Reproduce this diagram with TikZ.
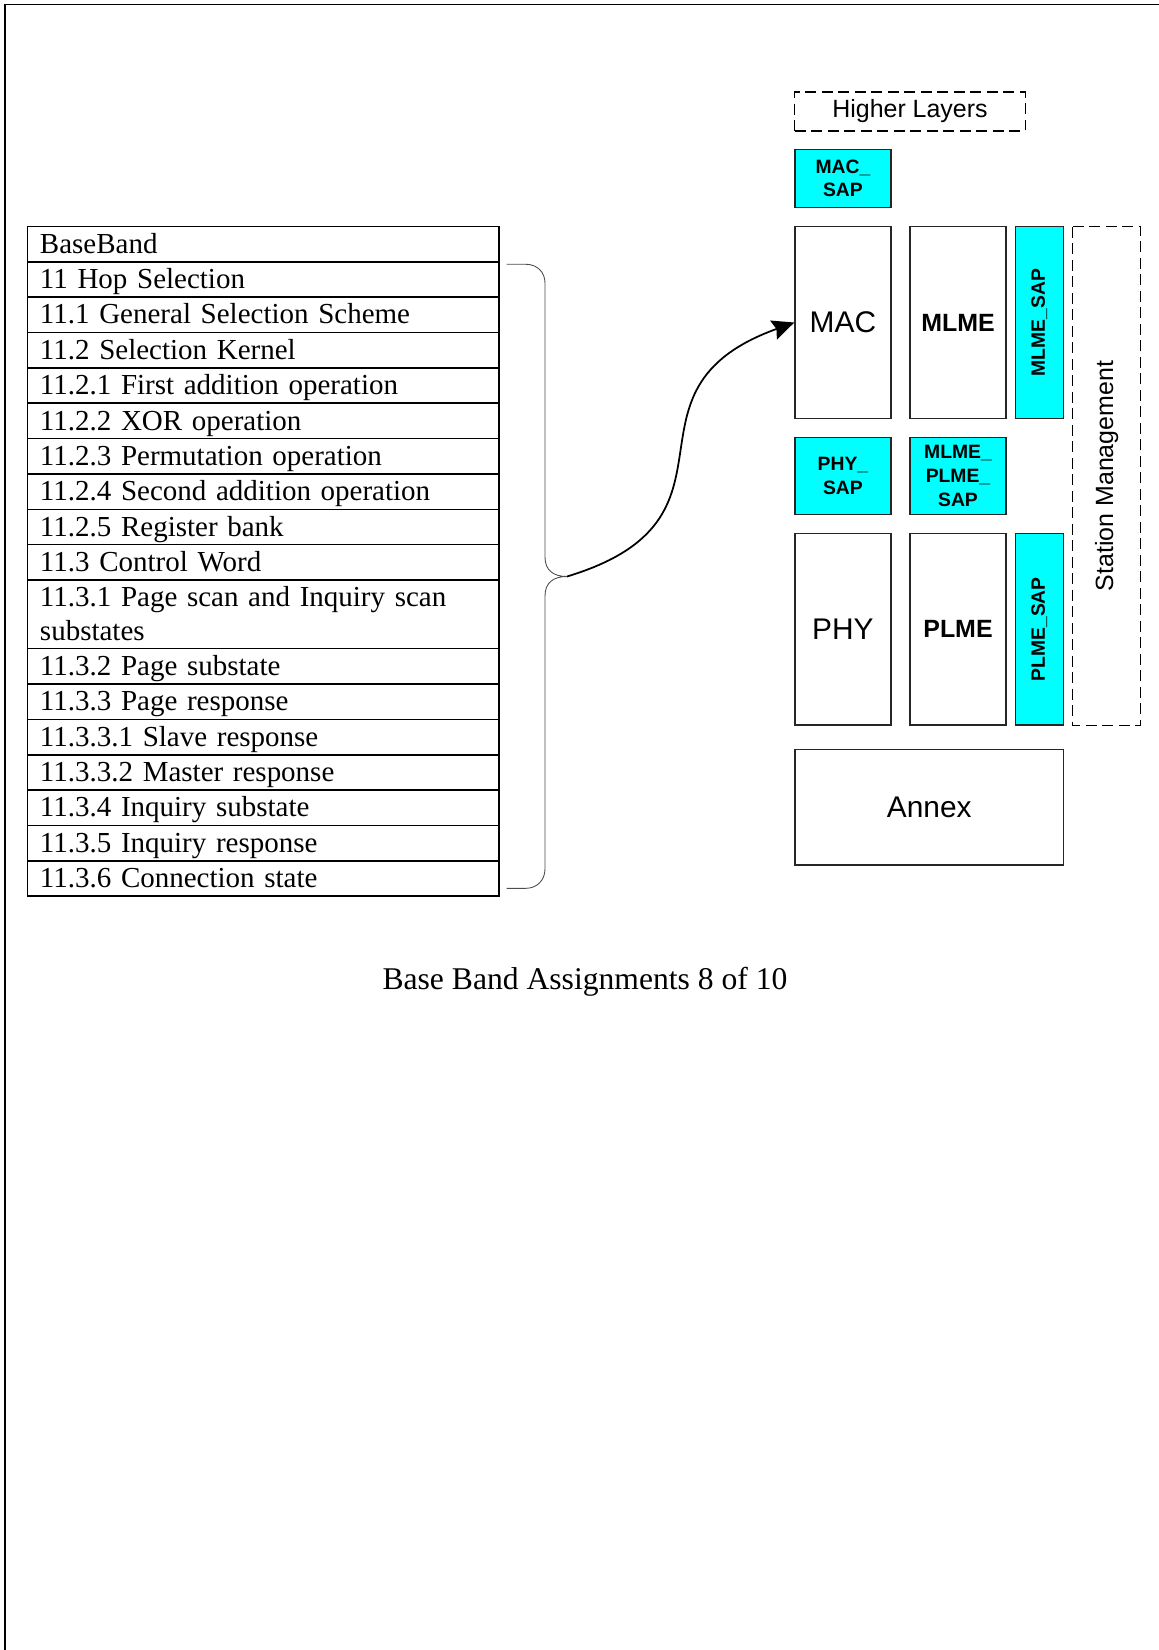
\documentclass[tikz,border=0pt]{standalone}
\usepackage{fontspec}
\setmainfont{Liberation Serif}
\setsansfont{Liberation Sans}
\usetikzlibrary{arrows.meta,positioning}
\definecolor{sapcyan}{RGB}{0,255,255}
\newcommand{\layerbox}[4][]{\node[osibox,#1] at (#2) (#3) {#4}}

\begin{document}
\begin{tikzpicture}[x=0.02cm, y=-0.02cm,
  osibox/.style={draw=black!85, line width=0.7pt, inner sep=0pt, align=center,
    font=\sffamily\fontsize{17}{20}\selectfont},
  entity/.style={minimum width=1.92cm, minimum height=3.83cm},
  sap/.style={fill=sapcyan, font=\sffamily\bfseries\fontsize{11}{13.5}\selectfont},
  mgmt/.style={font=\sffamily\bfseries\fontsize{14.2}{17}\selectfont},
  dashbox/.style={draw=black, dash pattern=on 0.22cm off 0.11cm, line width=0.75pt,
    font=\sffamily\fontsize{14.2}{17}\selectfont},
  bbrow/.style={draw, line width=0.85pt, outer sep=0pt, inner xsep=0.252cm, inner ysep=0pt,
    text width=8.928cm, align=left, text height=0.536cm, text depth=0.171cm,
    font=\fontsize{16.5}{19.2}\selectfont},
  bracepath/.style={draw=black!70, line width=0.5pt},
  linkarrow/.style={-{Stealth[length=0.44cm, width=0.4cm, inset=0.06cm]}, line width=1pt}
]
  \useasboundingbox (0,0) rectangle (1159,1650);
  % page frame
  \draw[line width=1pt] (5,1650) -- (5,4.5) -- (1159,4.5);

  % baseband table
  \node[bbrow, anchor=north west] (bb) at (27.4,226.5) {BaseBand};
  \node[bbrow, below=0pt of bb] (s11) {11 Hop Selection};
  \node[bbrow, below=0pt of s11] (s11-1) {11.1 General Selection Scheme};
  \node[bbrow, below=0pt of s11-1] (s11-2) {11.2 Selection Kernel};
  \node[bbrow, below=0pt of s11-2] (s11-2-1) {11.2.1 First addition operation};
  \node[bbrow, below=0pt of s11-2-1] (s11-2-2) {11.2.2 XOR operation};
  \node[bbrow, below=0pt of s11-2-2] (s11-2-3) {11.2.3 Permutation operation};
  \node[bbrow, below=0pt of s11-2-3] (s11-2-4) {11.2.4 Second addition operation};
  \node[bbrow, below=0pt of s11-2-4] (s11-2-5) {11.2.5 Register bank};
  \node[bbrow, below=0pt of s11-2-5] (s11-3) {11.3 Control Word};
  \node[bbrow, below=0pt of s11-3, text depth=0.84cm] (s11-3-1) {11.3.1 Page scan and Inquiry scan\\substates};
  \node[bbrow, below=0pt of s11-3-1] (s11-3-2) {11.3.2 Page substate};
  \node[bbrow, below=0pt of s11-3-2] (s11-3-3) {11.3.3 Page response};
  \node[bbrow, below=0pt of s11-3-3] (s11-3-3-1) {11.3.3.1 Slave response};
  \node[bbrow, below=0pt of s11-3-3-1] (s11-3-3-2) {11.3.3.2 Master response};
  \node[bbrow, below=0pt of s11-3-3-2] (s11-3-4) {11.3.4 Inquiry substate};
  \node[bbrow, below=0pt of s11-3-4] (s11-3-5) {11.3.5 Inquiry response};
  \node[bbrow, below=0pt of s11-3-5] (s11-3-6) {11.3.6 Connection state};

  % brace
  \coordinate (bracetip) at (567,576.5);
  \draw[bracepath] (506.7,264.3) -- (526,264.3) .. controls (537,264.3) and (545,272) .. (545,283)
    -- (545,557) .. controls (545,570) and (553,576.5) .. (bracetip)
    .. controls (553,576.5) and (545,583) .. (545,596)
    -- (545,869) .. controls (545,880) and (537,888.3) .. (526,888.3) -- (506.7,888.3);

  % layers
  \layerbox[dashbox, minimum width=4.61cm, minimum height=0.78cm]{910,111.5}{higher}{Higher Layers};
  \layerbox[sap, minimum width=1.92cm, minimum height=1.16cm]{842.9,178.3}{macsap}{MAC\textunderscore\\SAP};
  \layerbox[entity]{842.9,322.5}{mac}{MAC};
  \layerbox[entity, mgmt]{958,322.5}{mlme}{MLME};
  \layerbox[sap, minimum width=3.83cm, minimum height=0.96cm, rotate=90]{1039.3,322.5}{mlmesap}{MLME\textunderscore SAP};
  \layerbox[dashbox, minimum width=9.97cm, minimum height=1.36cm, rotate=90]{1106.7,476}{stamgmt}{Station Management};
  \layerbox[sap, minimum width=1.92cm, minimum height=1.54cm]{842.9,475.8}{physap}{PHY\textunderscore\\SAP};
  \layerbox[sap, minimum width=1.92cm, minimum height=1.54cm]{958,475.8}{mlmeplmesap}{MLME\textunderscore\\PLME\textunderscore\\SAP};
  \layerbox[entity]{842.9,629.3}{phy}{PHY};
  \layerbox[entity, mgmt]{958,629.3}{plme}{PLME};
  \layerbox[sap, minimum width=3.83cm, minimum height=0.96cm, rotate=90]{1039.3,629.3}{plmesap}{PLME\textunderscore SAP};
  \layerbox[minimum width=5.37cm, minimum height=2.31cm]{929.2,807.2}{annex}{Annex};

  \draw[linkarrow] (bracetip) .. controls +(192,-58) and +(-188,68) .. (mac.west);

  \node[font=\fontsize{18}{21}\selectfont, anchor=base] (caption) at (585,989.3) {Base Band Assignments 8 of 10};
\end{tikzpicture}
\end{document}
